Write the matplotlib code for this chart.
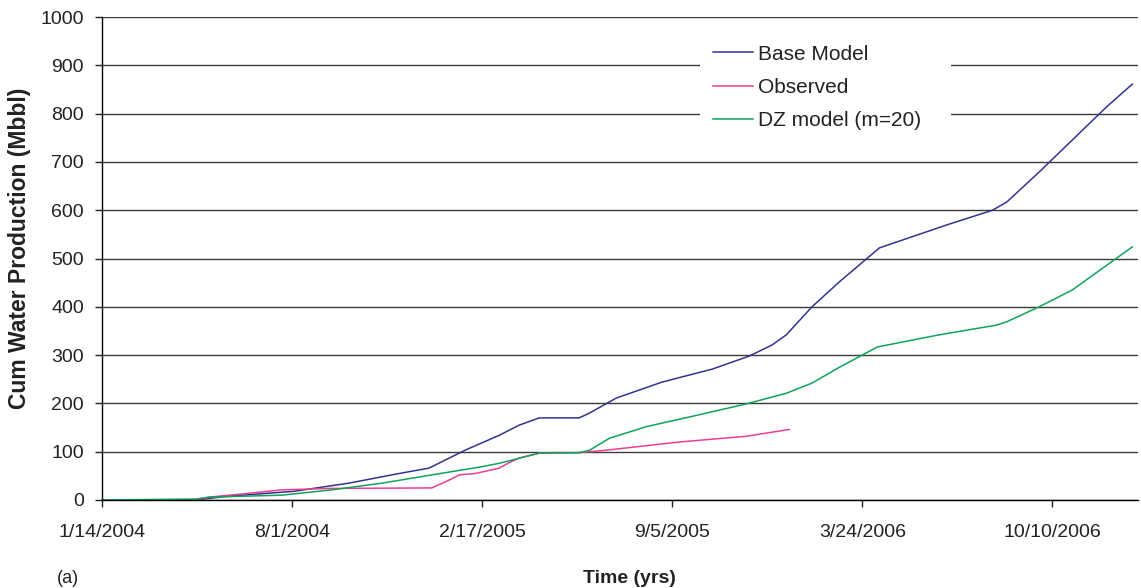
import matplotlib
matplotlib.use("Agg")
import matplotlib.pyplot as plt
import matplotlib.dates as mdates
import pandas as pd
from matplotlib.patches import Rectangle
from matplotlib.ticker import FuncFormatter, FixedLocator, MultipleLocator

plt.rcParams['font.family'] = ['Liberation Sans', 'DejaVu Sans']

# days since 1/14/2004, values in Mbbl
start = pd.Timestamp("2004-01-14")

base_days = [0, 97, 134, 202, 260, 313, 344, 383, 397, 418, 439, 460, 502, 513, 541, 589,
             642, 681, 705, 720, 747, 776, 818, 888, 937, 952, 986, 1057, 1084]
base_vals = [0, 0, 8, 18, 35, 55, 66, 104, 116, 134, 155, 170, 170, 180, 211, 244,
             271, 298, 321, 342, 400, 452, 522, 569, 600, 617, 679, 814, 861]

obs_days = [0, 97, 113, 155, 189, 242, 347, 365, 376, 393, 418, 428, 439, 460, 502,
            530, 607, 678, 723]
obs_vals = [0, 0, 6, 14, 21, 24, 25, 41, 52, 55, 66, 77, 87, 97, 98,
            103, 120, 132, 146]

dz_days = [0, 99, 113, 189, 242, 295, 347, 397, 418, 460, 502, 513, 534, 573, 625,
           678, 720, 747, 776, 816, 881, 941, 952, 986, 1021, 1067, 1084]
dz_vals = [0, 2, 6, 10, 21, 35, 52, 68, 76, 97, 98, 103, 128, 152, 175,
           199, 221, 242, 275, 317, 342, 362, 369, 400, 435, 500, 524]

tick_days = [0, 200, 400, 600, 800, 1000]

series = [
    ("Base Model", base_days, base_vals, "#33338F"),
    ("Observed", obs_days, obs_vals, "#EE3D96"),
    ("DZ model (m=20)", dz_days, dz_vals, "#10A35A"),
]

W, H = 1141, 588
fig = plt.figure(figsize=(W / 100, H / 100), dpi=100)
ax = fig.add_axes([102 / W, 1 - 500 / H, (1138 - 102) / W, (500 - 17) / H])

for name, days, vals, col in series:
    dates = [start + pd.Timedelta(days=d) for d in days]
    ax.plot(dates, vals, color=col, lw=1.1, label=name, zorder=3)

x0 = mdates.date2num(start)
ax.set_xlim(x0, x0 + 1090)
ax.set_ylim(0, 1000)
ax.xaxis.set_major_locator(FixedLocator([x0 + d for d in tick_days]))
ax.yaxis.set_major_locator(MultipleLocator(100))


def fmt_date(v, pos):
    d = mdates.num2date(v)
    return f"{d.month}/{d.day}/{d.year}"


ax.xaxis.set_major_formatter(FuncFormatter(fmt_date))
ax.grid(axis='y', color='#3a3a3a', lw=1.0)
ax.set_axisbelow(True)
for s in ['top', 'right']:
    ax.spines[s].set_visible(False)
for s in ['left', 'bottom']:
    ax.spines[s].set_color('black')
    ax.spines[s].set_linewidth(1.0)
    ax.spines[s].set_zorder(4)

ax.tick_params(axis='x', direction='out', length=5, width=1, pad=12.5, labelsize=14, colors='#222222')
ax.tick_params(axis='y', direction='out', length=5, width=1, pad=8, labelsize=14, colors='#222222')

fig.text(20 / W, 1 - 248 / H, "Cum Water Production (Mbbl)", fontsize=16.5, fontweight='bold',
         color='#222222', rotation=90, ha='center', va='center')
fig.text(629 / W, 1 - 583 / H, "Time (yrs)", fontsize=14, fontweight='bold', color='#222222',
         ha='center', va='baseline')
fig.text(57 / W, 0.001, "(a)", fontsize=13, color='#222222', ha='left', va='bottom')

# white legend box that hides the grid lines behind it
ax.add_patch(Rectangle((700 / W, 1 - 148 / H), 251 / W, 120 / H, transform=fig.transFigure,
                       facecolor='white', edgecolor='none', zorder=1))
leg = ax.legend(loc='upper left', bbox_to_anchor=(700 / W, 1 - 32 / H),
                bbox_transform=fig.transFigure, borderaxespad=0, frameon=False,
                fontsize=15, handlelength=1.95, handletextpad=0.25, labelspacing=0.69,
                borderpad=0.6)
for t in leg.get_texts():
    t.set_color('#222222')

fig.savefig("out.png", dpi=100)
